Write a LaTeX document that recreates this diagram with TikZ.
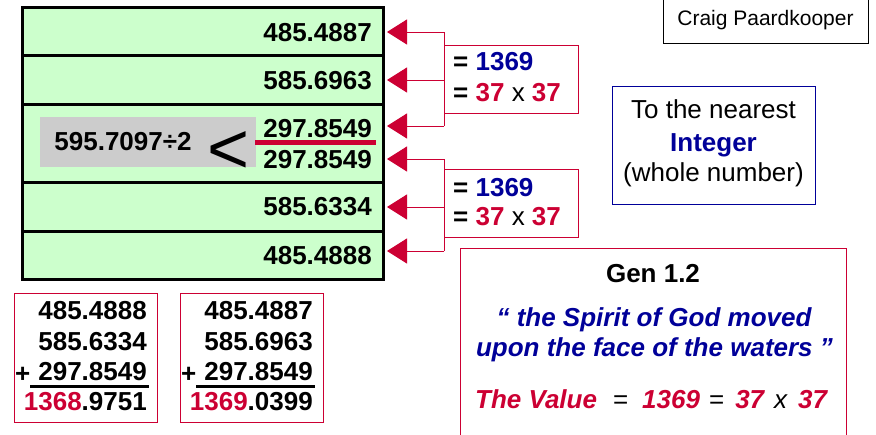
\documentclass[tikz,border=0pt]{standalone}
\usepackage{fontspec}
\setmainfont{Liberation Sans}
\usetikzlibrary{arrows.meta}
\definecolor{crim}{HTML}{CC0033}
\definecolor{navyb}{HTML}{000099}
\definecolor{rowgreen}{HTML}{CCFFCC}
\definecolor{boxgray}{HTML}{CCCCCC}
\begin{document}
\begin{tikzpicture}[x=1pt,y=-1pt,
  every node/.style={font=\fontsize{26}{31}\selectfont, inner sep=0pt},
  rowbox/.style={draw=black, line width=3pt, fill=rowgreen, minimum width=361pt},
  num/.style={font=\fontsize{26}{31}\selectfont\bfseries, anchor=east},
  arr/.style={crim, line width=1pt, -{Triangle[length=20pt,width=25pt]}},
  brk/.style={crim, line width=1pt},
  eqbox/.style={draw=crim, line width=1pt, minimum width=134pt, minimum height=68pt},
  eqtext/.style={font=\fontsize{26}{31}\selectfont\bfseries, anchor=west},
  sumbox/.style={draw=crim, line width=1pt, minimum width=143pt, minimum height=129pt},
  plain/.style={font=\fontsize{26}{31}\selectfont, anchor=base},
  quote/.style={font=\fontsize{26}{31}\selectfont\bfseries\itshape, text=navyb, anchor=base}
]
\useasboundingbox (0,0) rectangle (876,434);
\fill[white] (0,0) rectangle (876,434);

% table rows
\node[rowbox, minimum height=48pt] (r1) at (202.5,31) {};
\node[rowbox, minimum height=49pt] (r2) at (202.5,79.5) {};
\node[rowbox, minimum height=78pt] (r3) at (202.5,143) {};
\node[rowbox, minimum height=49pt] (r4) at (202.5,206.5) {};
\node[rowbox, minimum height=48pt] (r5) at (202.5,255) {};

% gray box with division
\node[fill=boxgray, minimum width=216pt, minimum height=50pt] (gb) at (148,142) {};
\node[font=\fontsize{26}{31}\selectfont\bfseries] (div) at (123,142) {595.7097÷2};
\node[font=\fontsize{72}{80}\selectfont] (lt) at (228.5,152.5) {<};

% numbers
\node[num] (t1) at (372,33) {485.4887};
\node[num] (t2) at (372,80.5) {585.6963};
\node[num] (t3) at (372,128.5) {297.8549};
\node[num] (t4) at (372,159.5) {297.8549};
\node[num] (t5) at (372,207) {585.6334};
\node[num] (t6) at (372,255.5) {485.4888};
\draw[crim, line width=5pt] (255,142) -- (376,142);

% arrows
\coordinate (p1) at (444,32);  \coordinate (q1) at (387,32);
\coordinate (p2) at (444,80);  \coordinate (q2) at (387,80);
\coordinate (p3) at (444,126); \coordinate (q3) at (387,126);
\coordinate (p4) at (444,159); \coordinate (q4) at (387,159);
\coordinate (p5) at (444,207); \coordinate (q5) at (387,207);
\coordinate (p6) at (444,251); \coordinate (q6) at (387,251);
\draw[brk] (p1) -- (p3);
\draw[brk] (p4) -- (p6);
\foreach \i in {1,...,6} { \draw[arr] (p\i) -- (q\i); }

% equation boxes
\node[eqbox] (e1) at (511,79) {};
\node[eqtext] (e1a) at (453,62) {= \textcolor{navyb}{1369}};
\node[eqtext] (e1b) at (453,93) {= \textcolor{crim}{37} \mdseries x \bfseries\textcolor{crim}{37}};
\node[eqbox] (e2) at (511,203) {};
\node[eqtext] (e2a) at (453,188) {= \textcolor{navyb}{1369}};
\node[eqtext] (e2b) at (453,217) {= \textcolor{crim}{37} \mdseries x \bfseries\textcolor{crim}{37}};

% author
\node[draw=black, line width=1pt, minimum width=205pt, minimum height=45pt,
      font=\fontsize{21}{25}\selectfont] (auth) at (765.5,20.5) {Craig Paardkooper};

% integer box
\node[draw=navyb, line width=1pt, minimum width=203pt, minimum height=118pt] (ib) at (713.5,145) {};
\node[plain] (i1) at (713.5,118) {To the nearest};
\node[plain, font=\fontsize{26}{31}\selectfont\bfseries, text=navyb] (i2) at (713.5,151) {Integer};
\node[plain] (i3) at (713.5,181) {(whole number)};

% Gen box
\draw[crim, line width=1pt] (460,440) -- (460,248) -- (846,248) -- (846,440);
\node[plain, font=\fontsize{26}{31}\selectfont\bfseries] (g1) at (653,282) {Gen 1.2};
\node[quote] (g2) at (654,326) {“ the Spirit of God moved};
\node[quote] (g3) at (654.5,356) {upon the face of the waters ”};
\node[plain, anchor=base west] (g4) at (475,408) {\bfseries\itshape\textcolor{crim}{The Value}\hspace{16pt}\mdseries\upshape=\hspace{14pt}\bfseries\itshape\textcolor{crim}{1369}\hspace{9pt}\mdseries\upshape=\hspace{11pt}\bfseries\itshape\textcolor{crim}{37}\hspace{10pt}\mdseries x\hspace{11pt}\bfseries\textcolor{crim}{37}};

% sum boxes
\node[sumbox] (sa) at (85.5,357.5) {};
\node[num] (sa1) at (147,311) {485.4888};
\node[num] (sa2) at (147,342) {585.6334};
\node[num] (sa3) at (147,372) {297.8549};
\node[font=\fontsize{26}{31}\selectfont\bfseries, anchor=base west] (sap) at (15,382) {+};
\draw[line width=3pt] (30,386) -- (149,386);
\node[num] (sa4) at (147,402) {\textcolor{crim}{1368}.9751};

\node[sumbox] (sb) at (251.5,357.5) {};
\node[num] (sb1) at (313,311) {485.4887};
\node[num] (sb2) at (313,342) {585.6963};
\node[num] (sb3) at (313,372) {297.8549};
\node[font=\fontsize{26}{31}\selectfont\bfseries, anchor=base west] (sbp) at (181,382) {+};
\draw[line width=3pt] (196,386) -- (315,386);
\node[num] (sb4) at (313,402) {\textcolor{crim}{1369}.0399};
\end{tikzpicture}
\end{document}
